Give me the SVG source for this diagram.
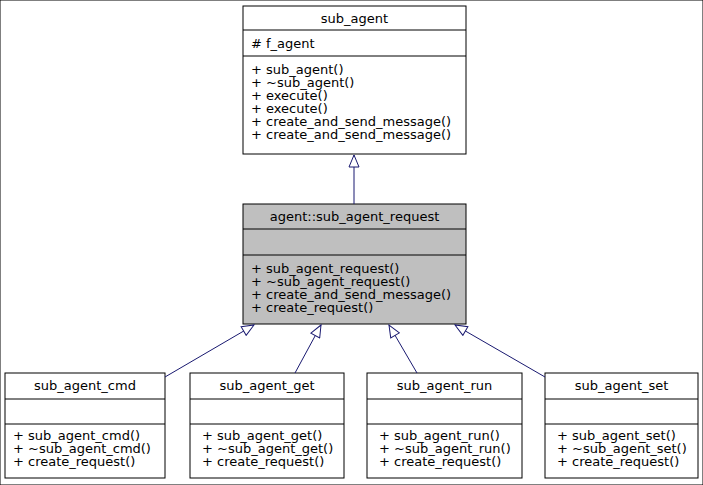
<svg xmlns="http://www.w3.org/2000/svg" width="703" height="485" viewBox="0 0 703 485">
<style>
rect{stroke:#000;stroke-width:1}
.w{fill:#fff}.g{fill:#bfbfbf}
line.d{stroke:#000;stroke-width:1}
text{font-family:"DejaVu Sans",sans-serif;font-size:13px;fill:#000}
.c{text-anchor:middle}
.e{stroke:#191970;stroke-width:1;fill:none}
</style>
<defs><marker id="h" markerWidth="14" markerHeight="12" refX="13" refY="6" orient="auto" markerUnits="userSpaceOnUse"><path d="M1,1 L13,6 L1,11 Z" fill="#fff" stroke="#191970"/></marker></defs>
<rect width="703" height="485" fill="#fff" stroke="none"/>
<g id="sub_agent">
<rect class="w" x="243" y="6" width="223" height="148"/>
<line class="d" x1="243" y1="30" x2="466" y2="30"/><line class="d" x1="243" y1="56" x2="466" y2="56"/>
<text class="c" x="354.5" y="23">sub_agent</text>
<text x="251" y="48"># f_agent</text>
<text x="251" y="74">+ sub_agent()</text><text x="251" y="87">+ ~sub_agent()</text><text x="251" y="100">+ execute()</text><text x="251" y="113">+ execute()</text><text x="251" y="126">+ create_and_send_message()</text><text x="251" y="139">+ create_and_send_message()</text>
</g>
<g id="sub_agent_request">
<rect class="g" x="243" y="204" width="223" height="120"/>
<line class="d" x1="243" y1="229" x2="466" y2="229"/><line class="d" x1="243" y1="255" x2="466" y2="255"/>
<text class="c" x="354.5" y="221">agent::sub_agent_request</text>
<text x="251" y="273">+ sub_agent_request()</text><text x="251" y="286">+ ~sub_agent_request()</text><text x="251" y="299">+ create_and_send_message()</text><text x="251" y="312">+ create_request()</text>
</g>
<g id="sub_agent_cmd">
<rect class="w" x="5" y="373" width="160" height="105"/>
<line class="d" x1="5" y1="399" x2="165" y2="399"/><line class="d" x1="5" y1="424" x2="165" y2="424"/>
<text class="c" x="85" y="390">sub_agent_cmd</text>
<text x="13" y="440">+ sub_agent_cmd()</text><text x="13" y="453">+ ~sub_agent_cmd()</text><text x="13" y="466">+ create_request()</text>
</g>
<g id="sub_agent_get">
<rect class="w" x="190" y="373" width="154" height="105"/>
<line class="d" x1="190" y1="399" x2="344" y2="399"/><line class="d" x1="190" y1="424" x2="344" y2="424"/>
<text class="c" x="267" y="390">sub_agent_get</text>
<text x="202" y="440">+ sub_agent_get()</text><text x="202" y="453">+ ~sub_agent_get()</text><text x="202" y="466">+ create_request()</text>
</g>
<g id="sub_agent_run">
<rect class="w" x="367" y="373" width="155" height="105"/>
<line class="d" x1="367" y1="399" x2="522" y2="399"/><line class="d" x1="367" y1="424" x2="522" y2="424"/>
<text class="c" x="444.5" y="390">sub_agent_run</text>
<text x="379" y="440">+ sub_agent_run()</text><text x="379" y="453">+ ~sub_agent_run()</text><text x="379" y="466">+ create_request()</text>
</g>
<g id="sub_agent_set">
<rect class="w" x="545" y="373" width="153" height="105"/>
<line class="d" x1="545" y1="399" x2="698" y2="399"/><line class="d" x1="545" y1="424" x2="698" y2="424"/>
<text class="c" x="621.5" y="390">sub_agent_set</text>
<text x="557" y="440">+ sub_agent_set()</text><text x="557" y="453">+ ~sub_agent_set()</text><text x="557" y="466">+ create_request()</text>
</g>
<g id="edges">
<line class="e" x1="354" y1="204" x2="354" y2="155" marker-end="url(#h)"/>
<line class="e" x1="165" y1="377" x2="254" y2="325" marker-end="url(#h)"/>
<line class="e" x1="295" y1="373" x2="321" y2="325" marker-end="url(#h)"/>
<line class="e" x1="417" y1="373" x2="389" y2="325" marker-end="url(#h)"/>
<line class="e" x1="545" y1="377" x2="455" y2="325" marker-end="url(#h)"/>
</g>
</svg>
